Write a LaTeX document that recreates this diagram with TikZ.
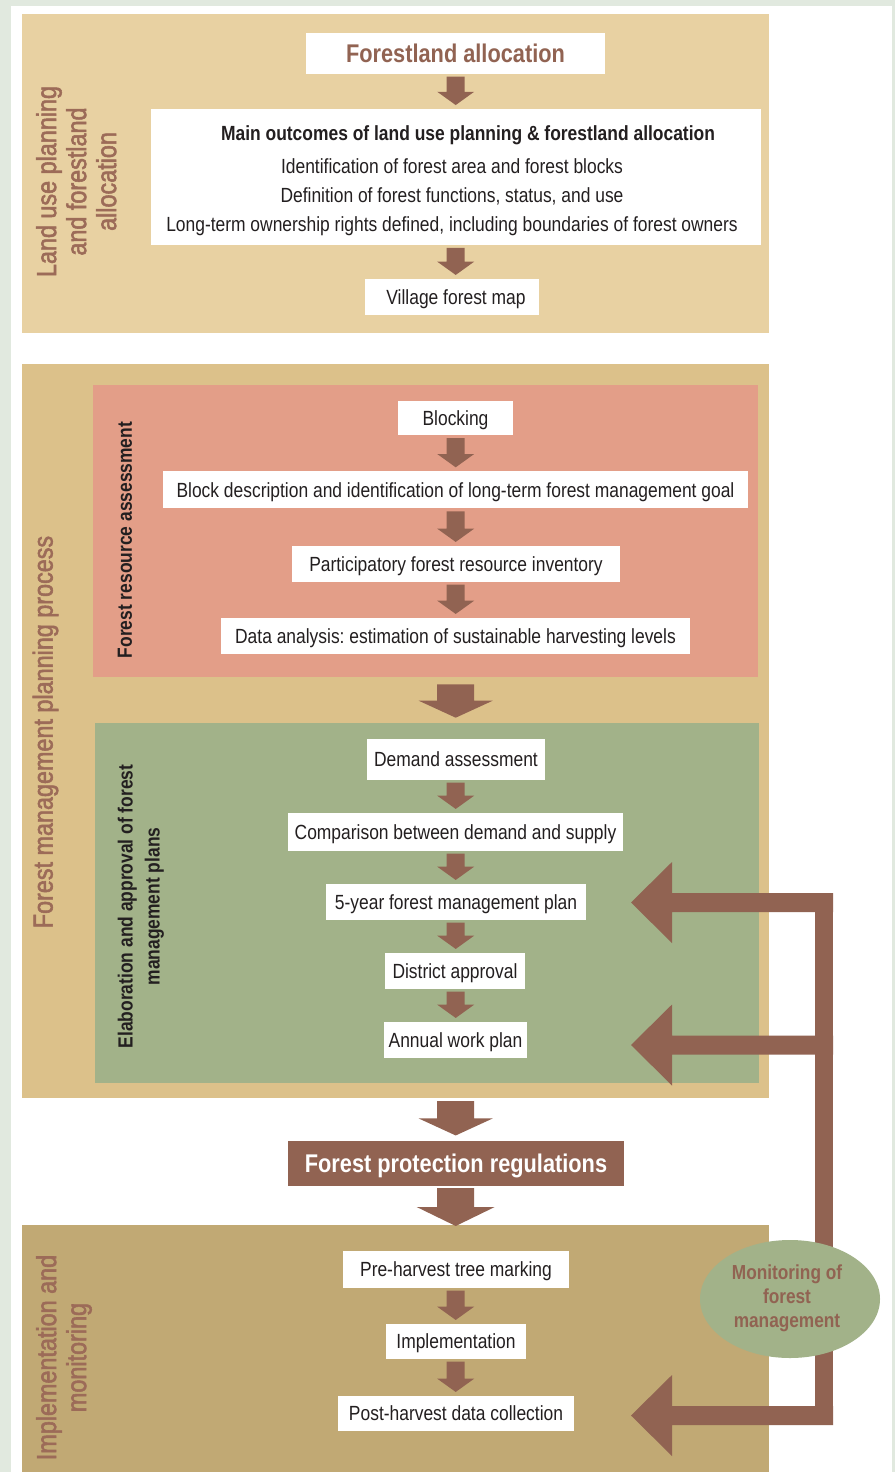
\documentclass[tikz,border=0pt]{standalone}
\usepackage{fontspec}
\setmainfont{Liberation Sans}[FakeStretch=0.85]
\newfontfamily\labfam{Liberation Sans}[FakeStretch=0.85,FakeBold=2]
\usetikzlibrary{calc,shapes.geometric}
\definecolor{bgout}{HTML}{E1E9DF}
\definecolor{boxone}{HTML}{E8D1A2}
\definecolor{boxtwo}{HTML}{DCC18A}
\definecolor{boxred}{HTML}{E39E88}
\definecolor{boxgrn}{HTML}{A2B289}
\definecolor{boxthree}{HTML}{C1A974}
\definecolor{brn}{HTML}{916352}
\definecolor{lbrn}{HTML}{9C6B58}
\definecolor{txt}{HTML}{231F20}
\newcommand\bodyfont{\fontsize{20.5}{29}\selectfont}
\newcommand\titlefont{\bfseries\fontsize{25.6}{30}\selectfont}
\newcommand\labfont{\labfam\fontsize{27.5}{30}\selectfont}
\newcommand\sublabfont{\bfseries\fontsize{20.5}{27}\selectfont}
% vertical flow arrow: from node, to node, start offset, end offset, shaft half, head half, head length
\newcommand\flowarr[7]{%
  \coordinate (fs) at ($(#1.south -| axis)+(0,#3)$);
  \coordinate (fe) at ($(#2.north -| axis)+(0,#4)$);
  \fill[brn] ($(fe|-fs)+(-#5,0)$) -- ($(fe|-fs)+(#5,0)$) -- ($(fe)+(#5,-#7)$) -- ($(fe)+(#6,-#7)$) -- (fe) -- ($(fe)+(-#6,-#7)$) -- ($(fe)+(-#5,-#7)$) -- cycle;}
\newcommand\smallarr[2]{\flowarr{#1}{#2}{3}{-4}{9}{18.5}{13.3}}
% feedback arrow pointing left, tip coordinate
\newcommand\fbarr[1]{%
  \fill[brn] (#1) -- ($(#1)+(41,-40.5)$) -- ($(#1)+(41,-9.5)$) -- ($(bt|-#1)+(9,-9.5)$) -- ($(bt|-#1)+(9,9.5)$) -- ($(#1)+(41,9.5)$) -- ($(#1)+(41,40.5)$) -- cycle;}
\frenchspacing
\begin{document}
\begin{tikzpicture}[x=1pt,y=-1pt,
  region/.style={fill=#1, draw=none, inner sep=0pt, outer sep=0pt},
  stepbox/.style={fill=white, inner sep=0pt, outer sep=0pt, font=\bodyfont, text=txt, text height=14.7pt, text depth=0pt},
  vlabel/.style={rotate=90, anchor=north, inner sep=0pt, align=center, text=lbrn, font=\labfont},
  sublabel/.style={rotate=90, anchor=north, inner sep=0pt, align=center, text=txt, font=\sublabfont}]
\useasboundingbox (0,0) rectangle (895,1472);
\fill[bgout] (0,0) rectangle (895,1472);
\fill[white] (11,6) rectangle (892,1472);
\coordinate (axis) at (455.7,0);

% regions
\node[region=boxone, minimum width=747pt, minimum height=318.7pt] (reg1) at (395.5,173.35) {};
\node[region=boxtwo, minimum width=747pt, minimum height=734pt] (reg2) at (395.5,731) {};
\node[region=boxred, minimum width=665pt, minimum height=291.7pt] (regred) at (425.5,530.85) {};
\node[region=boxgrn, minimum width=664pt, minimum height=360.6pt] (reggrn) at (427,903) {};
\node[region=boxthree, minimum width=747pt, minimum height=247pt] (reg3) at (395.5,1348.5) {};

% region labels
\node[vlabel] (lab1) at (36,181.5) {Land use planning\\and forestland\\allocation};
\node[vlabel] (lab2) at (32.5,732) {Forest management planning process};
\node[vlabel] (lab3) at (36,1357.5) {Implementation and\\monitoring};
\node[sublabel] (lab4) at (117.5,540) {Forest resource assessment};
\node[sublabel] (lab5) at (117.5,906.5) {Elaboration and approval of forest\\management plans};

% top section
\node[fill=white, inner sep=0pt, outer sep=0pt, minimum width=299pt, minimum height=40.7pt, text=brn, font=\titlefont, text height=18.3pt, text depth=0pt] (falloc) at (455.5,53.3) {Forestland allocation};
\node[fill=white, inner sep=0pt, outer sep=0pt, minimum width=610pt, minimum height=135.7pt, font=\bodyfont, text=txt] (outc) at (456,176.9) {\hspace*{-8pt}\begin{tabular}{@{}c@{}}\rule{0pt}{26.3pt}\hspace*{32pt}\textbf{Main outcomes of land use planning \& forestland allocation}\\[4.3pt]Identification of forest area and forest blocks\\Definition of forest functions, status, and use\\Long-term ownership rights defined, including boundaries of forest owners\end{tabular}};
\node[stepbox, minimum width=174pt, minimum height=35.7pt] (village) at (452,296.8) {\hspace*{8pt}Village forest map};

% forest resource assessment
\node[stepbox, minimum width=115pt, minimum height=34pt] (block) at (455.5,418) {Blocking};
\node[stepbox, minimum width=585pt, minimum height=37pt] (bdesc) at (455.5,489.8) {Block description and identification of long-term forest management goal};
\node[stepbox, minimum width=328pt, minimum height=35.7pt] (inv) at (456,563.8) {Participatory forest resource inventory};
\node[stepbox, minimum width=469pt, minimum height=35.7pt] (data) at (455.5,635.8) {Data analysis: estimation of sustainable harvesting levels};

% elaboration
\node[stepbox, minimum width=178pt, minimum height=40.7pt] (demand) at (456,759.3) {Demand assessment};
\node[stepbox, minimum width=335pt, minimum height=37.7pt] (comp) at (455.5,831.8) {Comparison between demand and supply};
\node[stepbox, minimum width=260pt, minimum height=35.7pt] (plan) at (456,901.8) {5-year forest management plan};
\node[stepbox, minimum width=140pt, minimum height=35.7pt] (dist) at (455,970.8) {District approval};
\node[stepbox, minimum width=143pt, minimum height=35.7pt] (annual) at (455.5,1039.8) {Annual work plan};

% protection
\node[fill=brn, inner sep=0pt, outer sep=0pt, minimum width=336pt, minimum height=44.7pt, text=white, font=\titlefont, text height=18.3pt, text depth=0pt] (prot) at (456,1163.3) {Forest protection regulations};

% implementation
\node[stepbox, minimum width=226pt, minimum height=36.7pt] (pre) at (456,1269.3) {Pre-harvest tree marking};
\node[stepbox, minimum width=140pt, minimum height=34.7pt] (impl) at (456,1341.3) {Implementation};
\node[stepbox, minimum width=236pt, minimum height=34.7pt] (post) at (456,1413.3) {Post-harvest data collection};

% flow arrows
\smallarr{falloc}{outc}
\smallarr{outc}{village}
\smallarr{block}{bdesc}
\smallarr{bdesc}{inv}
\smallarr{inv}{data}
\smallarr{demand}{comp}
\smallarr{comp}{plan}
\smallarr{plan}{dist}
\smallarr{dist}{annual}
\smallarr{pre}{impl}
\smallarr{impl}{post}
\flowarr{regred}{reggrn}{7.6}{-5}{18.5}{37}{17}
\flowarr{reg2}{prot}{3}{-5.5}{18.5}{37}{17}
\flowarr{prot}{reg3}{2.5}{1}{18.5}{39}{19}

% feedback loop
\coordinate (bt) at (824,893);
\coordinate (bb) at (824,1425);
\coordinate (t1) at (631,902.5);
\coordinate (t2) at (631,1045);
\coordinate (t3) at (631,1415.5);
\fill[brn] ($(bt)+(-9,0)$) rectangle ($(bb)+(9,0)$);
\fbarr{t1}
\fbarr{t2}
\fbarr{t3}
\node[ellipse, fill=boxgrn, inner sep=0pt, minimum width=180pt, minimum height=118pt, text=brn, font=\bfseries\fontsize{20.3}{24}\selectfont] (mon) at (790,1299) {\hspace*{-6pt}\begin{tabular}{@{}c@{}}Monitoring of\\forest\\management\end{tabular}};
\end{tikzpicture}
\end{document}
